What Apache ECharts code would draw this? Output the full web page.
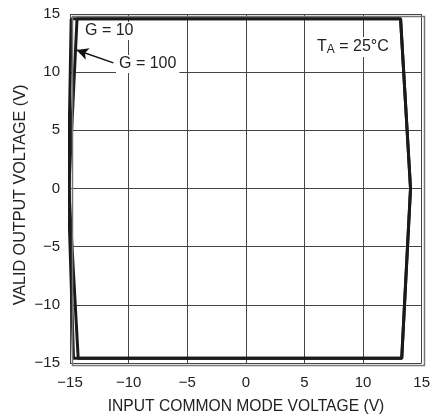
<!DOCTYPE html>
<html>
<head>
<meta charset="utf-8">
<script src="https://cdn.jsdelivr.net/npm/echarts@6/dist/echarts.min.js"></script>
<style>
  html, body { margin: 0; padding: 0; background: #fff; }
  #chart { width: 433px; height: 419px; }
</style>
</head>
<body>
<div id="chart"></div>
<script>
// valid output region, closed outlines (x = input CM voltage, y = output voltage)
const gain10 = [[-14.4, 14.6], [13.2, 14.6], [14.05, 0], [13.3, -14.6], [-14.3, -14.6], [-15.1, 0], [-14.4, 14.6]];
const gain100 = [[-14.9, 14.6], [13.2, 14.6], [14.05, 0], [13.3, -14.6], [-14.7, -14.6], [-15.15, 0], [-14.9, 14.6]];
const arrowG100 = [[-11.3, 10.8], [-14.45, 11.9]];

const FONT = '"Liberation Sans Narrow", "Arial Narrow", "Liberation Sans", sans-serif';
const fmt = v => (v < 0 ? '\u2212' + Math.abs(v) : String(v));

const chart = echarts.init(document.getElementById('chart'));

const option = {
  animation: false,
  grid: { left: 70, right: 11, top: 14, bottom: 56 },
  xAxis: {
    type: 'value', min: -15, max: 15, interval: 5,
    axisLine: { show: false }, axisTick: { show: false },
    axisLabel: { fontFamily: FONT, fontSize: 15, color: '#222', margin: 12, formatter: fmt },
    splitLine: { show: true, lineStyle: { color: '#444', width: 1 } }
  },
  yAxis: {
    type: 'value', min: -15, max: 15, interval: 5,
    axisLine: { show: false }, axisTick: { show: false },
    axisLabel: { fontFamily: FONT, fontSize: 15, color: '#222', margin: 10, formatter: fmt },
    splitLine: { show: true, lineStyle: { color: '#444', width: 1 } }
  },
  series: [
    {
      name: 'G = 10', type: 'line', data: gain10, symbol: 'none',
      lineStyle: { color: '#1a1a1a', width: 3 }, z: 5
    },
    {
      name: 'G = 100', type: 'line', data: gain100, symbol: 'none',
      lineStyle: { color: '#1a1a1a', width: 3 }, z: 5,
      markLine: {
        silent: true, symbol: ['none', 'arrow'], symbolSize: [9, 12],
        label: { show: false },
        lineStyle: { color: '#111', width: 1.5, type: 'solid' },
        data: [[{ coord: arrowG100[0] }, { coord: arrowG100[1] }]]
      }
    }
  ],
  graphic: [
    {
      type: 'rect', left: 70, top: 14, z: 10, silent: true,
      shape: { width: 352, height: 349 },
      style: { fill: 'none', stroke: '#777', lineWidth: 1.5 }
    },
    // axis titles (condensed look)
    {
      type: 'text', x: 246, y: 406, scaleX: 0.92, z: 20,
      style: {
        text: 'INPUT COMMON MODE VOLTAGE (V)', font: '17px ' + FONT, fill: '#222',
        textAlign: 'center', textVerticalAlign: 'middle'
      }
    },
    {
      type: 'text', x: 20, y: 195, rotation: Math.PI / 2, scaleX: 0.95, z: 20,
      style: {
        text: 'VALID OUTPUT VOLTAGE (V)', font: '17px ' + FONT, fill: '#222',
        textAlign: 'center', textVerticalAlign: 'middle'
      }
    },
    {
      type: 'text', left: 82, top: 22, z: 20,
      style: { text: 'G = 10', font: '16px ' + FONT, fill: '#222', backgroundColor: '#fff', padding: [1, 3] }
    },
    {
      type: 'text', left: 116, top: 55, z: 20,
      style: { text: 'G = 100', font: '16px ' + FONT, fill: '#222', backgroundColor: '#fff', padding: [1, 3] }
    },
    {
      type: 'text', left: 314, top: 37, z: 20,
      style: {
        text: '{t|T}{s|A}{t| = 25°C}',
        backgroundColor: '#fff', padding: [1, 3],
        rich: {
          t: { font: '16px ' + FONT, fill: '#222' },
          s: { font: '12px ' + FONT, fill: '#222', verticalAlign: 'bottom', padding: [6, 0, 0, 0] }
        }
      }
    }
  ]
};

chart.setOption(option);
</script>
</body>
</html>
